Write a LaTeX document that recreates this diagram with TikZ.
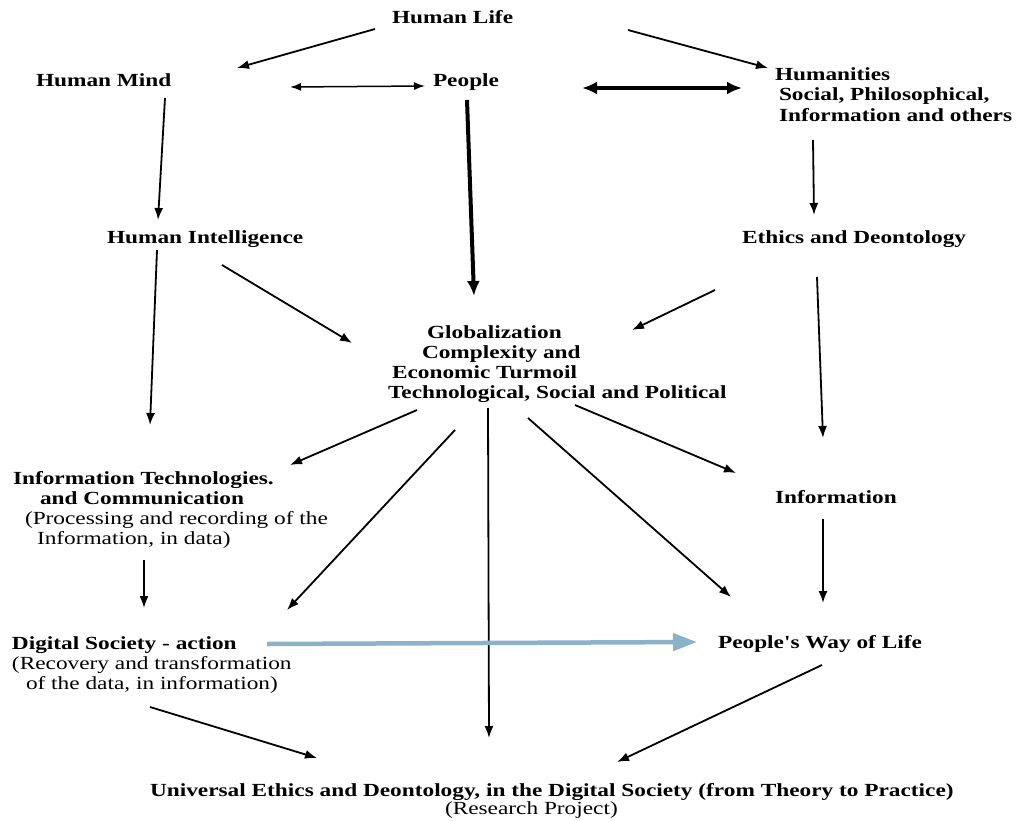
\documentclass[tikz,border=0pt]{standalone}
\usepackage{fontspec}
\setmainfont{Liberation Serif}[FakeStretch=1.26, Ligatures=TeXOff]
\usetikzlibrary{arrows.meta}
\definecolor{flowblue}{RGB}{140,178,200}

\begin{document}
\begin{tikzpicture}[x=1pt, y=-1pt,
  lbl/.style={anchor=base west, inner sep=0pt, outer sep=0pt,
              font=\fontsize{18.5}{20}\selectfont\bfseries},
  plain/.style={lbl, font=\fontsize{18.5}{20}\selectfont},
  arr/.style={line width=1.8pt, -{Latex[length=12pt,width=9pt]}},
  darr/.style={line width=1.5pt, {Latex[length=11pt,width=8pt]}-{Latex[length=11pt,width=8pt]}},
  thickarr/.style={line width=4pt, -{Latex[length=15pt,width=13pt]}},
  thickdarr/.style={line width=4pt, {Latex[length=15pt,width=13pt]}-{Latex[length=15pt,width=13pt]}},
  bluearr/.style={line width=4.5pt, draw=flowblue, -{Triangle[length=24pt,width=17pt]}}]

\fill[white] (0,0) rectangle (1019,821);
\useasboundingbox (0,0) rectangle (1019,821);

% ---- labels ----
\node[lbl] (life)   at (392,24)  {Human Life};
\node[lbl] (mind)   at (36,87)   {Human Mind};
\node[lbl] (people) at (433,87)  {People};
\node[lbl] (hum1)   at (775,81)  {Humanities};
\node[lbl] (hum2)   at (779,101) {Social, Philosophical,};
\node[lbl] (hum3)   at (779,122) {Information and others};
\node[lbl] (intel)  at (107,243) {Human Intelligence};
\node[lbl] (ethics) at (742,243) {Ethics and Deontology};
\node[lbl] (glob1)  at (427,338) {Globalization};
\node[lbl] (glob2)  at (422,358) {Complexity and};
\node[lbl] (glob3)  at (392,378) {Economic Turmoil};
\node[lbl] (glob4)  at (388,398) {Technological, Social and Political};
\node[lbl] (it1)    at (13,484)  {Information Technologies.};
\node[lbl] (it2)    at (40,504)  {and Communication};
\node[plain] (it3)  at (25,524)  {(Processing and recording of the};
\node[plain] (it4)  at (37,544)  {Information, in data)};
\node[lbl] (info)   at (775,503) {Information};
\node[lbl] (ds1)    at (12,649)  {Digital Society - action};
\node[plain] (ds2)  at (12,669)  {(Recovery and transformation};
\node[plain] (ds3)  at (26,689)  {of the data, in information)};
\node[lbl] (way)    at (718,648) {People's Way of Life};
\node[lbl] (univ)   at (150,796) {Universal Ethics and Deontology, in the Digital Society (from Theory to Practice)};
\node[plain] (res)  at (445,814) {(Research Project)};

% ---- connector ends ----
\coordinate (lifeL)   at (375,29);   \coordinate (mindT)   at (237,68);
\coordinate (lifeR)   at (628,30);   \coordinate (humT)    at (768,68);
\coordinate (mindR)   at (290,87);   \coordinate (peopleL) at (425,86);
\coordinate (peopleR) at (582,88);   \coordinate (humL)    at (742,88);
\coordinate (mindB)   at (165,98);   \coordinate (intelT)  at (158,220);
\coordinate (peopleB) at (467,100);  \coordinate (globT)   at (474,296);
\coordinate (humB)    at (813,140);  \coordinate (ethicsT) at (814,215);
\coordinate (intelB)  at (157,250);  \coordinate (itT)     at (150,425);
\coordinate (intelR)  at (222,265);  \coordinate (globL)   at (352,343);
\coordinate (ethicsL) at (715,290);  \coordinate (globR)   at (632,330);
\coordinate (ethicsB) at (817,277);  \coordinate (infoT)   at (823,438);
\coordinate (globB1)  at (417,410);  \coordinate (itR)     at (290,465);
\coordinate (globB2)  at (455,430);  \coordinate (dsT)     at (287,610);
\coordinate (globB3)  at (488,408);  \coordinate (univT)   at (489,738);
\coordinate (globB4)  at (528,418);  \coordinate (wayT)    at (731,597);
\coordinate (globB5)  at (575,405);  \coordinate (infoL)   at (736,473);
\coordinate (itB)     at (144,560);  \coordinate (dsTop)   at (144,608);
\coordinate (infoB)   at (823,519);  \coordinate (wayTop)  at (823,603);
\coordinate (dsR)     at (267,644);  \coordinate (wayL)    at (697,642);
\coordinate (dsB)     at (150,707);  \coordinate (univL)   at (317,758);
\coordinate (wayB)    at (822,665);  \coordinate (univR)   at (617,762);

% ---- connectors ----
\draw[arr] (lifeL) -- (mindT);
\draw[arr] (lifeR) -- (humT);
\draw[darr] (mindR) -- (peopleL);
\draw[thickdarr] (peopleR) -- (humL);
\draw[arr] (mindB) -- (intelT);
\draw[thickarr] (peopleB) -- (globT);
\draw[arr] (humB) -- (ethicsT);
\draw[arr] (intelB) -- (itT);
\draw[arr] (intelR) -- (globL);
\draw[arr] (ethicsL) -- (globR);
\draw[arr] (ethicsB) -- (infoT);
\draw[arr] (globB1) -- (itR);
\draw[arr] (globB2) -- (dsT);
\draw[arr] (globB3) -- (univT);
\draw[arr] (globB4) -- (wayT);
\draw[arr] (globB5) -- (infoL);
\draw[arr] (itB) -- (dsTop);
\draw[arr] (infoB) -- (wayTop);
\draw[bluearr] (dsR) -- (wayL);
\draw[arr] (dsB) -- (univL);
\draw[arr] (wayB) -- (univR);
\end{tikzpicture}
\end{document}
